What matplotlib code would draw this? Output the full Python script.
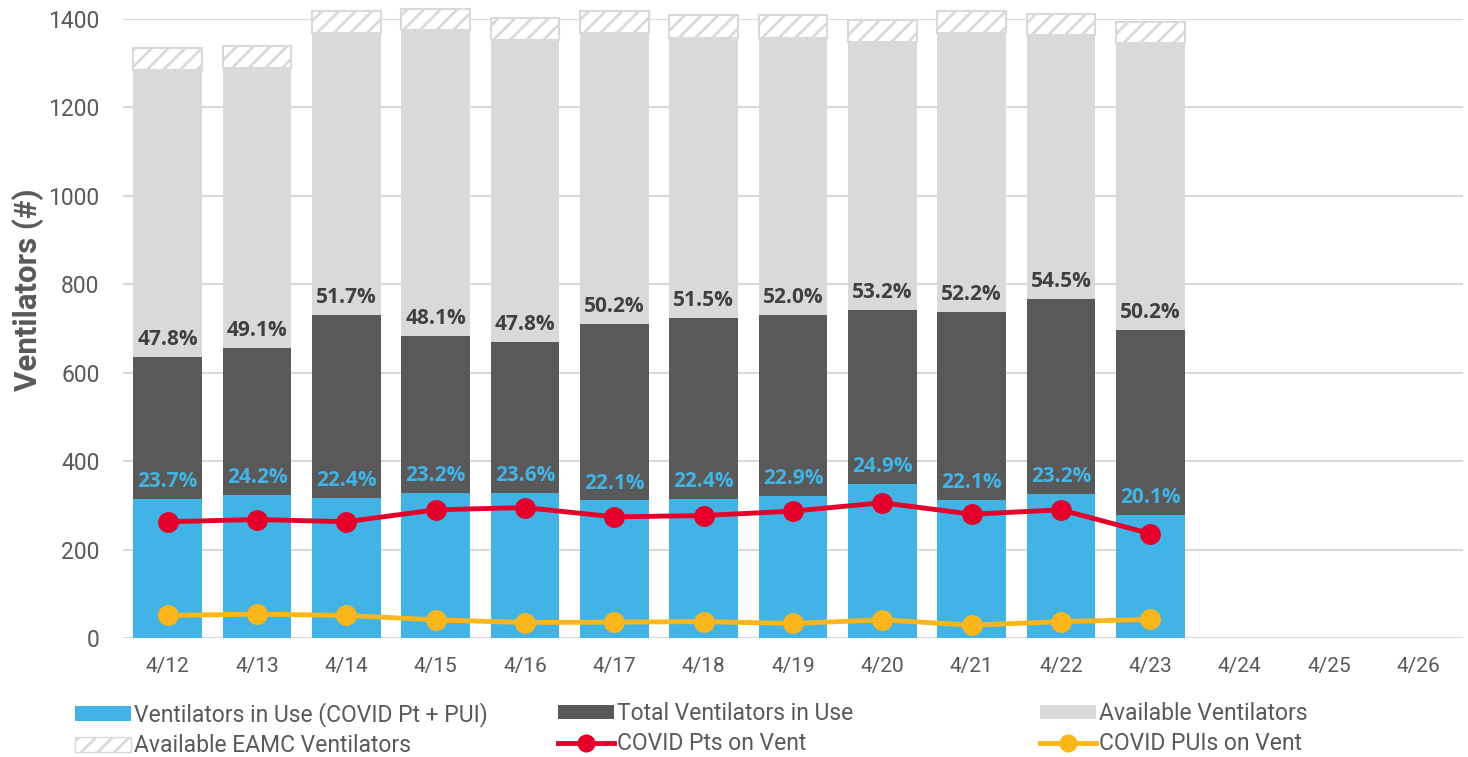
import matplotlib
matplotlib.use("Agg")
import matplotlib.pyplot as plt
from matplotlib.lines import Line2D
from matplotlib.patches import Patch

plt.rcParams['hatch.color'] = '#d9d9d9'
plt.rcParams['hatch.linewidth'] = 2.0

dates = ["4/12", "4/13", "4/14", "4/15", "4/16", "4/17", "4/18", "4/19",
         "4/20", "4/21", "4/22", "4/23", "4/24", "4/25", "4/26"]
covid_in_use = [314, 323, 316, 329, 329, 311, 314, 321, 348, 312, 326, 279]
total_in_use = [636, 657, 731, 684, 669, 710, 723, 731, 742, 738, 767, 697]
available = [649, 633, 637, 690, 684, 659, 635, 627, 607, 631, 597, 648]
eamc = [49, 50, 49, 49, 50, 49, 50, 50, 49, 49, 47, 48]
covid_pts = [263, 268, 263, 290, 295, 274, 277, 287, 306, 280, 290, 236]
covid_puis = [51, 54, 51, 41, 35, 36, 37, 33, 41, 29, 37, 42]
pct_in_use = ["47.8%", "49.1%", "51.7%", "48.1%", "47.8%", "50.2%", "51.5%",
              "52.0%", "53.2%", "52.2%", "54.5%", "50.2%"]
pct_covid = ["23.7%", "24.2%", "22.4%", "23.2%", "23.6%", "22.1%", "22.4%",
             "22.9%", "24.9%", "22.1%", "23.2%", "20.1%"]

BLUE = '#41b3e4'
DARK = '#595959'
LIGHT = '#d9d9d9'
RED = '#e4002b'
YELLOW = '#fbb61b'
TXT = '#595959'

fig = plt.figure(figsize=(14.68, 7.57), dpi=100)
ax = fig.add_axes([123 / 1468, 1 - 638 / 757, 1340 / 1468, 619 / 757])

x = list(range(len(covid_in_use)))
w = 0.765
other_in_use = [t - c for t, c in zip(total_in_use, covid_in_use)]
avail_bottom = total_in_use
eamc_bottom = [t + a for t, a in zip(total_in_use, available)]

ax.bar(x, covid_in_use, w, color=BLUE, zorder=2)
ax.bar(x, other_in_use, w, bottom=covid_in_use, color=DARK, zorder=2)
ax.bar(x, available, w, bottom=avail_bottom, color=LIGHT, zorder=2)
ax.bar(x, eamc, w, bottom=eamc_bottom, facecolor='white', edgecolor=LIGHT,
       hatch='//', linewidth=1.5, zorder=2, clip_on=False)

ax.plot(x, covid_pts, color=RED, lw=3.5, marker='o', ms=14, zorder=4)
ax.plot(x, covid_puis, color=YELLOW, lw=3.5, marker='o', ms=14, zorder=4)

for i in x:
    ax.annotate(pct_in_use[i], (i, total_in_use[i]), xytext=(0, 5),
                textcoords='offset points', ha='center', va='bottom',
                fontsize=15, fontweight='bold', color='#404040',
                family='Open Sans', zorder=5)
    ax.annotate(pct_covid[i], (i, covid_in_use[i]), xytext=(0, 5),
                textcoords='offset points', ha='center', va='bottom',
                fontsize=15, fontweight='bold', color=BLUE,
                family='Open Sans', zorder=5)

ax.set_xlim(-0.5, len(dates) - 0.5)
ax.set_ylim(0, 1400)
ax.set_yticks(range(0, 1401, 200))
ax.set_xticks(range(len(dates)))
ax.set_xticklabels(dates)
ax.yaxis.grid(True, color=LIGHT, lw=1.5, zorder=0)
ax.set_axisbelow(True)
for s in ax.spines.values():
    s.set_visible(False)
ax.tick_params(axis='both', length=0, labelcolor=TXT)
ax.tick_params(axis='y', pad=17, labelsize=16.5)
ax.tick_params(axis='x', pad=14, labelsize=15)
for lab in ax.get_xticklabels() + ax.get_yticklabels():
    lab.set_family('Roboto')

fig.text(28 / 1468, 1 - 290 / 757, "Ventilators (#)", rotation=90,
         ha='center', va='center', fontsize=22.5, fontweight='bold',
         color=TXT, family='Roboto')

handles = [
    Patch(facecolor=BLUE, label="Ventilators in Use (COVID Pt + PUI)"),
    Patch(facecolor='white', edgecolor=LIGHT, hatch='//',
          label="Available EAMC Ventilators"),
    Patch(facecolor=DARK, label="Total Ventilators in Use"),
    Line2D([], [], color=RED, lw=3.5, marker='o', ms=12,
           label="COVID Pts on Vent"),
    Patch(facecolor=LIGHT, label="Available Ventilators"),
    Line2D([], [], color=YELLOW, lw=3.5, marker='o', ms=12,
           label="COVID PUIs on Vent"),
]
col_x = [66, 549, 1031]
for k, cx in enumerate(col_x):
    leg = fig.legend(handles=handles[2 * k:2 * k + 2], loc='upper left',
                     bbox_to_anchor=(cx / 1468, 1 - 693 / 757),
                     frameon=False, handlelength=2.45, handleheight=0.6,
                     handletextpad=0.12, labelspacing=0.32, borderaxespad=0,
                     prop={'family': 'Roboto', 'size': 16.5})
    for t in leg.get_texts():
        t.set_color(TXT)

fig.savefig("out.png", dpi=100)
